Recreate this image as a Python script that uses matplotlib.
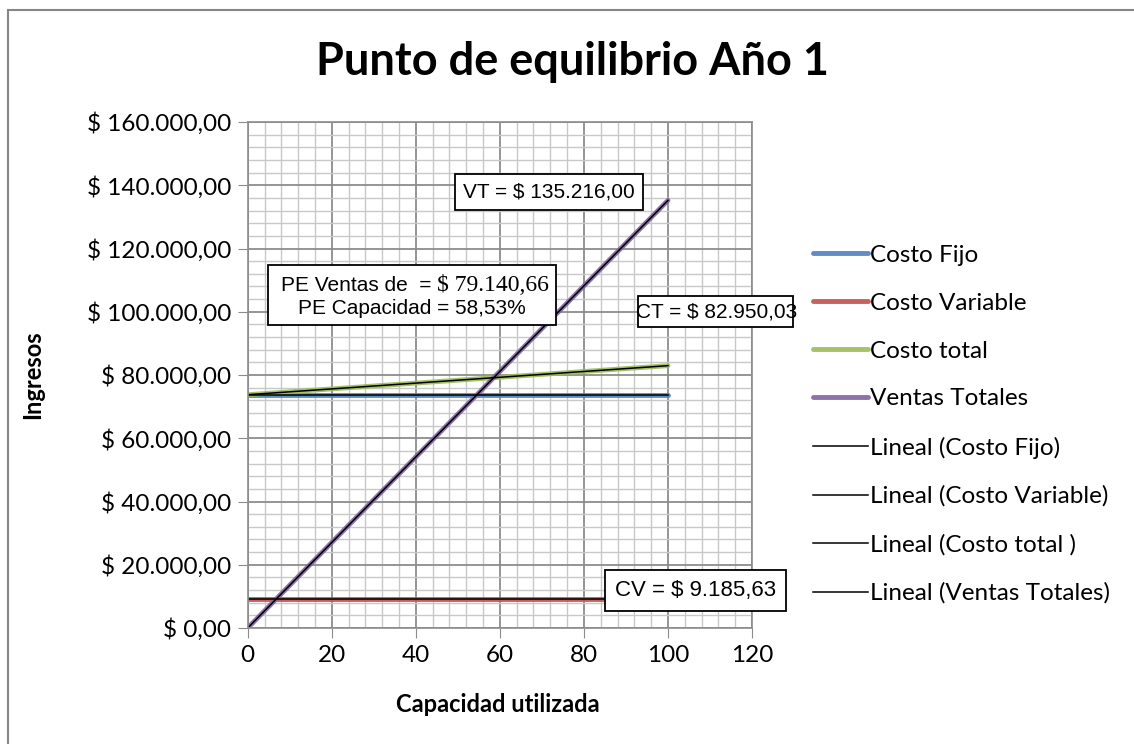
import matplotlib
matplotlib.use("Agg")
import matplotlib.pyplot as plt
from matplotlib.patches import Rectangle
from matplotlib.ticker import MultipleLocator, FuncFormatter

# capacidad utilizada (%) y montos de cada serie
capacidad = [0, 20, 40, 60, 80, 100]
costo_fijo = [73764.40, 73764.40, 73764.40, 73764.40, 73764.40, 73764.40]
costo_variable = [9185.63, 9185.63, 9185.63, 9185.63, 9185.63, 9185.63]
costo_total = [73764.40, 75601.53, 77438.65, 79275.78, 81112.90, 82950.03]
ventas_totales = [0.00, 27043.20, 54086.40, 81129.60, 108172.80, 135216.00]

series = ["Costo Fijo", "Costo Variable", "Costo total", "Ventas Totales"]
tendencias = ["Lineal (Costo Fijo)", "Lineal (Costo Variable)",
              "Lineal (Costo total )", "Lineal (Ventas Totales)"]
colores = ["#4F81BD", "#C0504D", "#9BBB59", "#8064A2"]

pe_ventas = "$ 79.140,66"
pe_capacidad = "58,53%"

W, H = 1134, 744
plt.rcParams["font.family"] = ["Lato", "DejaVu Sans"]

fig = plt.figure(figsize=(W / 100, H / 100), dpi=100)


def fx(px):
    return px / W


def fy(py):
    return 1 - py / H


def moneda(v, pos=None):
    s = f"{v:,.2f}".replace(",", "X").replace(".", ",").replace("X", ".")
    return "$ " + s


# marco del gráfico
fig.patches.append(Rectangle((fx(8), fy(1500)), fx(2000), fy(10) - fy(1500),
                             transform=fig.transFigure, fill=False,
                             edgecolor="#868686", linewidth=1.5))

ax = fig.add_axes([fx(247.7), fy(628), fx(752) - fx(247.7), fy(122) - fy(628)])
ax.set_xlim(0, 120)
ax.set_ylim(0, 160000)

ax.xaxis.set_major_locator(MultipleLocator(20))
ax.xaxis.set_minor_locator(MultipleLocator(4))
ax.yaxis.set_major_locator(MultipleLocator(20000))
ax.yaxis.set_minor_locator(MultipleLocator(4000))
ax.yaxis.set_major_formatter(FuncFormatter(moneda))

ax.grid(which="major", color="#8C8C8C", linewidth=1.3)
ax.grid(which="minor", color="#C8C8C8", linewidth=1.0)
ax.set_axisbelow(True)
for sp in ax.spines.values():
    sp.set_color("#8C8C8C")
    sp.set_linewidth(1.2)
ax.tick_params(which="major", length=7, color="#8C8C8C", labelsize=17.5, pad=5)
ax.tick_params(which="minor", length=0)

datos = [costo_fijo, costo_variable, costo_total, ventas_totales]
handles = []
for nombre, y, c in zip(series, datos, colores):
    h, = ax.plot(capacidad, y, color=c, linewidth=3.5, alpha=0.9,
                 solid_capstyle="round", label=nombre)
    handles.append(h)
for nombre, y in zip(tendencias, datos):
    h, = ax.plot(capacidad, y, color="black", linewidth=1.1, label=nombre)
    handles.append(h)

fig.legend(handles=handles, loc="upper left", bbox_to_anchor=(fx(813), fy(244.5)),
           frameon=False, fontsize=17.5, handlelength=2.25, handletextpad=0.1,
           labelspacing=1.11, borderaxespad=0, borderpad=0)

fig.text(0.505, fy(62), "Punto de equilibrio Año 1", ha="center", va="center",
         fontsize=32.5, fontweight="bold")
fig.text(fx(498), fy(704), "Capacidad utilizada", ha="center", va="center",
         fontsize=17, fontweight="bold")
fig.text(fx(33), fy(375), "Ingresos", ha="center", va="center", rotation=90,
         fontsize=17, fontweight="bold")

arial = "Liberation Sans"
serif = "Liberation Serif"

ax.text(71.7, 137900, "VT = " + moneda(ventas_totales[-1]),
        ha="center", va="center", fontsize=15, family=arial,
        bbox=dict(boxstyle="square,pad=0.4", facecolor="white",
                  edgecolor="black", linewidth=1.3))
ax.text(106.5, 11900, "CV = " + moneda(costo_variable[-1]),
        ha="center", va="center", fontsize=16, family=arial, clip_on=False,
        bbox=dict(boxstyle="square,pad=0.45", facecolor="white",
                  edgecolor="black", linewidth=1.3))

# recuadro del costo total, el texto sobresale del borde
ax.add_patch(Rectangle((92.9, 95200), 36.9, 9800, facecolor="white",
                       edgecolor="black", linewidth=1.3, clip_on=False, zorder=4))
ax.text(111.6, 99900, "CT = " + moneda(costo_total[-1]), ha="center",
        va="center", fontsize=15, family=arial, zorder=5, clip_on=False)

# recuadro del punto de equilibrio
ax.add_patch(Rectangle((4.8, 95800), 68.6, 19000, facecolor="white",
                       edgecolor="black", linewidth=1.3, zorder=4))
ax.text(43.6, 108300, "PE Ventas de  =", ha="right", va="center", fontsize=15,
        family=arial, zorder=5)
ax.text(45.0, 108300, pe_ventas, ha="left", va="center", fontsize=17,
        family=serif, zorder=5)
ax.text(39.1, 101000, "PE Capacidad = " + pe_capacidad, ha="center",
        va="center", fontsize=15, family=arial, zorder=5)

fig.savefig("out.png", dpi=100)
